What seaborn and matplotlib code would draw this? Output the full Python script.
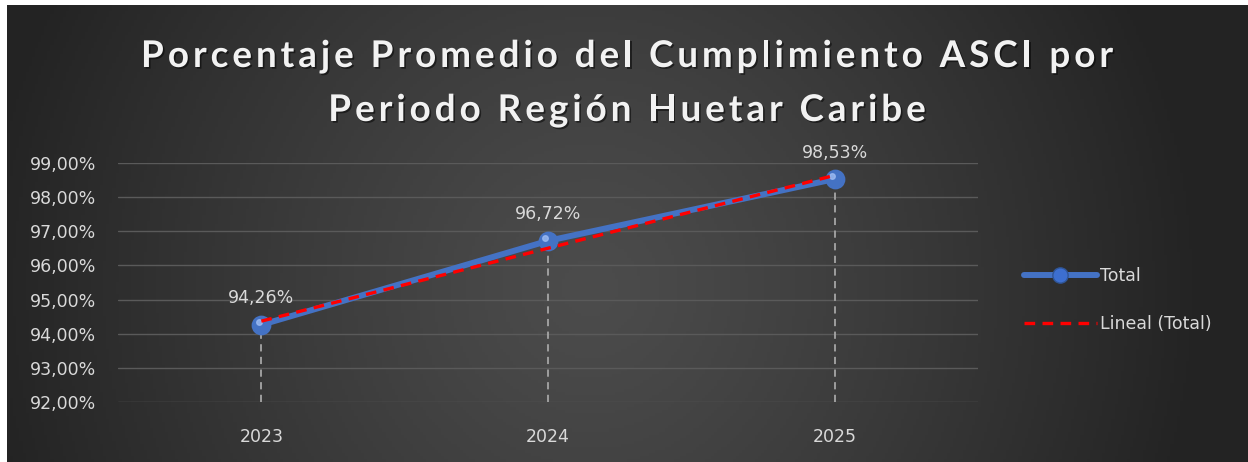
import numpy as np
import matplotlib
matplotlib.use("Agg")
import matplotlib.pyplot as plt
import matplotlib.patheffects as pe
from matplotlib.lines import Line2D
from matplotlib.font_manager import FontProperties
from matplotlib.transforms import ScaledTranslation
import seaborn as sns

# Datos del gráfico
periodos = ["2023", "2024", "2025"]
cumplimiento = [94.26, 96.72, 98.53]
y_ticks = [92, 93, 94, 95, 96, 97, 98, 99]

titulo = ["Porcentaje Promedio del Cumplimiento ASCI por",
          "Periodo Región Huetar Caribe"]
etiqueta_serie = "Total"
etiqueta_tendencia = "Lineal (Total)"

sns.set_theme(style="dark")
plt.rcParams['font.family'] = ['DejaVu Sans']

TEXTO = "#d9d9d9"
AZUL = "#4472C4"
FS = 12.5

fig = plt.figure(figsize=(12.48, 4.62), dpi=100, facecolor="white")

# Fondo con degradado radial (estilo Excel oscuro)
bg = fig.add_axes([7 / 1248, 0, 1 - 7 / 1248, 1 - 5 / 462], zorder=-5)
gx, gy = np.meshgrid(np.linspace(0, 1, 400), np.linspace(0, 1, 150))
dist = np.sqrt(((gx - 0.47) * 1.25) ** 2 + ((gy - 0.62) * 0.45) ** 2)
dist = np.clip(dist / 0.62, 0, 1)
c_centro, c_borde = 0x4c / 255, 0x23 / 255
shade = c_centro + (c_borde - c_centro) * dist ** 1.2
bg.imshow(np.dstack([shade, shade, shade]), aspect="auto", extent=[0, 1, 0, 1], origin="upper")
bg.set_axis_off()

ax = fig.add_axes([118 / 1248, 60 / 462, 860 / 1248, 239 / 462])
ax.set_facecolor("none")

x_pos = np.arange(len(periodos))

# Líneas de caída
for xp, v in zip(x_pos, cumplimiento):
    ax.plot([xp, xp], [92, v], color="#a6a6a6", lw=1.3, ls=(0, (4, 3)), zorder=2)

# Serie principal
sns.pointplot(x=periodos, y=cumplimiento, ax=ax, color=AZUL, linewidth=4.3,
              markers="o", markersize=11, zorder=3)
for ln in ax.lines[-1:]:
    ln.set_markeredgecolor("#2f5597")
    ln.set_markeredgewidth(1.0)
    ln.set_markerfacecolor("#3d6fd0")

# Brillo de las esferas
hl = ScaledTranslation(-2 / 72, 2 / 72, fig.dpi_scale_trans)
ax.plot(x_pos, cumplimiento, ls="none", marker="o", ms=4, color="#9dbbf2", alpha=0.8,
        transform=ax.transData + hl, zorder=4)

# Línea de tendencia lineal
coef = np.polyfit(x_pos, cumplimiento, 1)
ax.plot(x_pos, np.polyval(coef, x_pos), color="#ff0000", lw=2.4, ls=(0, (3.2, 2.2)), zorder=5)

# Etiquetas de datos
for xp, v in zip(x_pos, cumplimiento):
    ax.annotate(f"{v:.2f}%".replace(".", ","), (xp, v), xytext=(0, 19),
                textcoords="offset points", ha="center", va="center",
                color=TEXTO, fontsize=FS)

ax.set_xlim(-0.5, 2.5)
ax.set_ylim(92, 99)
ax.set_yticks(y_ticks)
ax.set_yticklabels([f"{t:.2f}%".replace(".", ",") for t in y_ticks])
ax.grid(axis="y", color="#5a5a5a", lw=1)
ax.grid(axis="x", visible=False)
ax.tick_params(axis="y", length=0, pad=16, colors=TEXTO, labelsize=FS)
ax.tick_params(axis="x", length=0, pad=19, colors=TEXTO, labelsize=FS)
ax.set_xlabel("")
ax.set_ylabel("")
for s in ax.spines.values():
    s.set_visible(False)

# Título con espaciado entre letras (carácter por carácter)
W, H = 1248, 462
r = fig.canvas.get_renderer()
prop = FontProperties(family="Lato", weight="bold", size=26.5)
def ancho(s):
    return r.get_text_width_height_descent(s, prop, ismath=False)[0] if s else 0.0

w1 = ancho(titulo[0])
track = (972 - w1) / (len(titulo[0]) - 1)
sombra = [pe.withSimplePatchShadow(offset=(1.2, -1.2), shadow_rgbFace="black", alpha=0.5)]
for linea, base in zip(titulo, [67, 121]):
    total = ancho(linea) + track * (len(linea) - 1)
    x0 = 627 - total / 2
    for i, ch in enumerate(linea):
        if ch == " ":
            continue
        xp = x0 + ancho(linea[:i]) + track * i
        fig.text(xp / W, 1 - base / H, ch, ha="left", va="baseline", color="#f2f2f2",
                 fontproperties=prop, path_effects=sombra)

# Leyenda
handles = [
    Line2D([], [], color=AZUL, lw=4.3, marker="o", ms=11, markerfacecolor="#3d6fd0",
           markeredgecolor="#2f5597"),
    Line2D([], [], color="#ff0000", lw=2.4, ls=(0, (3.2, 2.2))),
]
leg = fig.legend(handles, [etiqueta_serie, etiqueta_tendencia], loc="center left",
                 bbox_to_anchor=(1008 / 1248, 1 - 300 / 462), frameon=False,
                 fontsize=FS, labelcolor=TEXTO, handlelength=4.2, handletextpad=0.2,
                 labelspacing=1.75)

fig.savefig("out.png", dpi=100, facecolor=fig.get_facecolor())
